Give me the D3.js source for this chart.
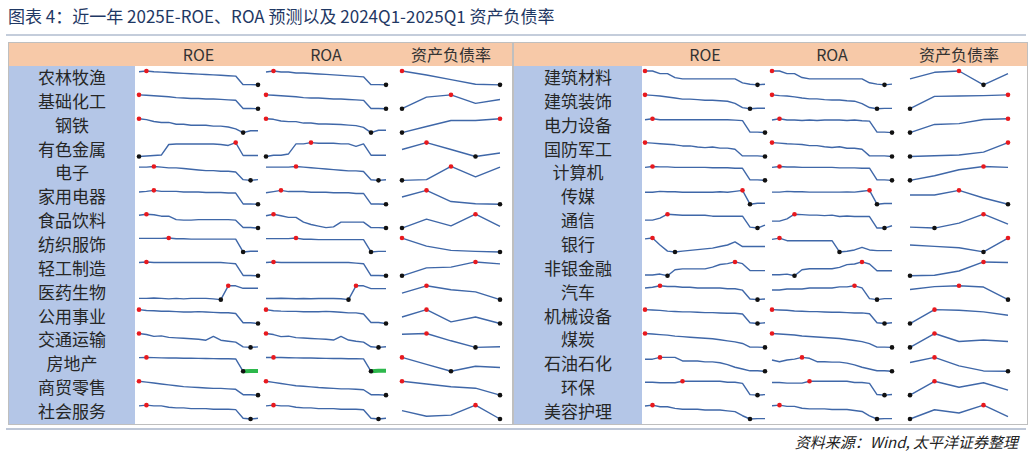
<!DOCTYPE html>
<html><head><meta charset="utf-8">
<script src="https://cdn.jsdelivr.net/npm/d3@7"></script>
<style>body{margin:0;background:#fff;font-family:"Noto Sans CJK SC","Noto Sans",sans-serif}</style>
</head><body><svg id="c" width="1032" height="456"></svg>
<script>
// industries, left table then right table
var industries = ["农林牧渔","基础化工","钢铁","有色金属","电子","家用电器","食品饮料","纺织服饰","轻工制造","医药生物","公用事业","交通运输","房地产","商贸零售","社会服务",
  "建筑材料","建筑装饰","电力设备","国防军工","计算机","传媒","通信","银行","非银金融","汽车","机械设备","煤炭","石油石化","环保","美容护理"];
var columns = ["ROE","ROA","资产负债率"];

// 2025E ROE forecasts over the last year
var roe = [
 [10.3,10.5,10.3,10.2,10.1,10.0,9.9,9.8,9.7,9.6,9.5,9.4,9.3,9.2,7.0,7.0,6.95],
 [9.6,9.5,9.4,9.3,9.2,9.0,8.9,8.8,8.8,8.7,8.7,8.6,8.5,8.4,6.6,6.6,6.55],
 [4.0,3.9,3.7,3.6,3.6,3.4,3.4,3.3,3.3,3.3,3.2,3.2,3.1,2.9,2.5,2.7,2.7],
 [9.0,9.1,9.2,9.3,11.5,11.6,11.6,11.6,11.6,11.6,11.6,11.5,11.3,11.9,9.2,9.2,9.2],
 [7.6,7.6,7.7,7.6,7.5,7.5,7.4,7.3,7.2,7.1,7.1,7.0,7.0,6.9,5.8,5.7,5.8],
 [14.5,14.6,14.8,14.6,14.6,14.6,14.5,14.5,14.5,14.4,14.4,14.4,14.3,14.3,12.3,12.3,12.25],
 [17.5,17.7,17.6,17.3,17.3,16.6,16.5,16.5,16.6,16.6,16.6,16.6,16.6,16.5,15.0,15.0,14.9],
 [7.0,7.0,7.0,7.0,7.05,6.95,6.95,6.9,6.9,6.9,6.9,6.9,6.9,6.9,5.1,5.2,5.2],
 [7.2,7.3,7.2,7.2,7.2,7.2,7.2,7.2,7.2,7.2,7.2,7.2,7.1,7.0,5.1,5.1,5.05],
 [6.5,6.5,6.55,6.5,6.45,6.5,6.45,6.5,6.5,6.5,6.45,6.35,8.0,8.0,7.7,7.7,7.7],
 [8.9,8.8,8.75,8.7,8.7,8.65,8.6,8.6,8.65,8.6,8.55,8.5,8.5,8.4,7.2,7.2,7.1],
 [6.8,6.7,6.5,6.55,6.4,6.35,6.3,6.25,6.2,6.1,6.5,6.1,6.0,5.9,5.4,5.35,5.4],
 [4.0,4.1,4.0,3.9,3.85,3.8,3.75,3.7,3.65,3.6,3.55,3.5,3.5,3.4,-2.1,-2.0,-2.0],
 [6.5,6.4,6.3,6.2,6.1,6.0,5.9,5.85,5.8,5.75,5.7,5.7,5.65,5.6,5.0,5.0,4.95],
 [8.0,8.1,8.0,8.0,7.8,7.7,7.7,7.6,7.6,7.6,7.5,7.5,7.5,7.45,6.2,6.1,6.2],
 [5.5,5.5,5.3,5.3,5.0,4.9,4.9,4.9,4.9,4.9,4.9,4.9,4.9,4.6,4.5,4.45,4.5],
 [6.0,5.95,5.9,5.8,5.7,5.6,5.6,5.55,5.5,5.5,5.45,5.4,5.2,4.8,4.7,4.75,4.75],
 [7.7,7.8,7.7,7.7,7.7,7.7,7.7,7.7,7.7,7.7,7.7,7.7,7.65,7.6,6.4,6.4,6.35],
 [4.8,4.75,4.7,4.65,4.6,4.5,4.5,4.4,4.35,4.4,4.3,4.3,4.2,3.6,3.6,3.6,3.55],
 [5.0,5.1,5.05,5.05,5.0,5.0,5.0,5.0,5.0,4.95,4.95,4.95,4.9,4.9,3.6,3.6,3.55],
 [6.0,6.0,6.1,6.05,6.05,6.0,6.0,6.0,6.0,6.0,6.05,6.0,6.1,6.2,4.8,4.9,4.9],
 [7.4,7.4,7.6,8.0,7.95,7.9,7.9,7.9,7.9,7.8,7.8,7.8,7.8,7.8,6.7,6.6,6.9],
 [11.0,11.05,10.6,10.2,10.15,10.2,10.25,10.3,10.35,10.4,10.5,10.6,10.8,10.5,10.5,10.5,10.5],
 [6.0,6.0,6.1,5.9,6.6,6.7,6.7,6.7,6.7,6.9,7.2,7.3,7.5,7.3,6.5,6.5,6.5],
 [7.6,7.7,7.9,7.8,7.8,7.7,7.7,7.6,7.6,7.6,7.6,7.5,7.5,7.3,6.1,6.0,6.1],
 [7.8,7.75,7.7,7.6,7.55,7.5,7.5,7.45,7.4,7.4,7.35,7.3,7.3,7.2,6.0,5.9,6.0],
 [12.5,12.4,12.3,12.2,12.0,11.9,11.8,11.7,11.6,11.5,11.3,11.1,10.9,10.6,9.9,9.9,9.85],
 [9.5,9.5,9.7,9.7,9.7,9.3,9.3,9.3,9.2,9.2,9.1,8.9,8.6,8.4,8.2,8.2,8.15],
 [6.6,6.6,6.55,6.55,6.55,6.7,6.7,6.7,6.7,6.7,6.7,6.6,6.6,6.5,5.4,5.35,5.4],
 [9.0,9.1,8.9,8.9,8.7,8.6,8.6,8.6,8.5,8.5,8.5,8.4,8.3,7.8,7.4,7.45,7.45]
];

// 2025E ROA forecasts over the last year
var roa = [
 [4.1,4.2,4.1,4.1,4.0,4.0,3.95,3.9,3.85,3.8,3.75,3.7,3.65,3.6,2.8,2.8,2.78],
 [4.8,4.75,4.7,4.65,4.6,4.5,4.45,4.45,4.4,4.35,4.35,4.3,4.25,4.2,3.3,3.3,3.28],
 [1.6,1.58,1.52,1.5,1.5,1.45,1.45,1.42,1.42,1.41,1.4,1.38,1.36,1.3,1.12,1.2,1.2],
 [3.9,4.0,4.0,4.1,4.9,4.9,5.0,4.95,4.95,4.95,4.9,4.9,4.7,4.9,4.0,4.0,4.0],
 [4.3,4.3,4.3,4.3,4.35,4.3,4.25,4.2,4.15,4.1,4.05,4.0,4.0,3.95,3.3,3.25,3.3],
 [6.1,6.2,6.3,6.2,6.2,6.2,6.15,6.15,6.15,6.1,6.1,6.1,6.05,6.05,5.2,5.2,5.18],
 [11.0,11.2,11.0,10.8,10.8,10.2,9.9,9.7,9.5,9.6,10.2,10.2,10.2,10.2,9.5,9.5,9.45],
 [4.2,4.2,4.2,4.2,4.25,4.15,4.15,4.12,4.12,4.12,4.12,4.12,4.12,4.12,3.1,3.15,3.15],
 [3.7,3.75,3.7,3.7,3.7,3.7,3.7,3.7,3.7,3.7,3.7,3.7,3.65,3.6,2.6,2.6,2.58],
 [3.9,3.9,3.92,3.9,3.88,3.9,3.88,3.9,3.9,3.9,3.88,3.82,4.8,4.8,4.6,4.6,4.6],
 [3.2,3.15,3.13,3.12,3.12,3.1,3.1,3.1,3.12,3.1,3.08,3.05,3.05,3.0,2.6,2.6,2.55],
 [3.1,3.05,2.95,2.97,2.9,2.88,2.86,2.84,2.82,2.78,2.96,2.78,2.72,2.68,2.45,2.42,2.45],
 [1.1,1.12,1.1,1.08,1.06,1.05,1.04,1.02,1.0,0.99,0.98,0.96,0.96,0.94,-0.6,-0.55,-0.55],
 [2.6,2.55,2.5,2.45,2.4,2.38,2.35,2.32,2.3,2.28,2.26,2.26,2.24,2.22,2.0,2.0,1.98],
 [4.0,4.05,4.0,4.0,3.9,3.85,3.85,3.8,3.8,3.8,3.75,3.75,3.75,3.72,3.1,3.05,3.1],
 [2.9,2.9,2.8,2.8,2.65,2.6,2.6,2.6,2.6,2.6,2.6,2.6,2.6,2.45,2.4,2.37,2.4],
 [1.6,1.58,1.57,1.55,1.52,1.5,1.5,1.48,1.47,1.47,1.45,1.44,1.38,1.28,1.25,1.26,1.26],
 [3.0,3.05,3.0,3.0,2.98,3.0,2.98,3.0,3.0,3.0,2.98,3.0,2.97,2.95,2.5,2.5,2.48],
 [2.9,2.87,2.84,2.82,2.8,2.74,2.74,2.68,2.64,2.68,2.6,2.6,2.55,2.2,2.2,2.2,2.17],
 [3.0,3.06,3.03,3.03,3.0,3.0,3.0,3.0,3.0,2.97,2.97,2.97,2.95,2.95,2.2,2.2,2.17],
 [3.9,3.9,3.95,3.93,3.93,3.9,3.9,3.9,3.9,3.9,3.92,3.9,3.96,4.02,3.1,3.15,3.15],
 [3.1,3.1,3.2,3.4,3.38,3.36,3.36,3.34,3.36,3.3,3.32,3.3,3.3,3.3,2.8,2.8,2.9],
 [0.85,0.86,0.84,0.84,0.84,0.84,0.84,0.84,0.84,0.755,0.76,0.77,0.79,0.77,0.765,0.765,0.765],
 [1.5,1.5,1.52,1.47,1.65,1.68,1.68,1.68,1.68,1.72,1.8,1.82,1.88,1.82,1.62,1.62,1.62],
 [3.0,3.0,3.05,3.05,3.05,3.1,3.1,3.1,3.1,3.15,3.15,3.2,3.1,2.6,2.55,2.6,2.6],
 [3.6,3.58,3.56,3.52,3.5,3.48,3.48,3.46,3.44,3.44,3.42,3.4,3.4,3.35,2.8,2.75,2.8],
 [6.6,6.55,6.5,6.45,6.35,6.3,6.25,6.2,6.15,6.1,6.0,5.9,5.8,5.6,5.25,5.25,5.22],
 [4.7,4.6,4.7,4.75,4.85,4.8,4.6,4.6,4.58,4.58,4.52,4.42,4.28,4.18,4.08,4.08,4.05],
 [2.2,2.2,2.18,2.18,2.18,2.24,2.24,2.24,2.24,2.24,2.24,2.2,2.2,2.17,1.8,1.78,1.8],
 [6.0,6.05,5.95,5.95,5.8,5.75,5.75,5.75,5.7,5.7,5.7,5.62,5.55,5.2,4.95,4.98,4.98]
];

// debt-to-asset ratio, 2024Q1..2025Q1
var debt = [
 [58.5,57.8,57.0,56.2,56.1],
 [48.5,50.0,50.3,49.2,49.7],
 [60.0,60.7,61.4,61.4,61.6],
 [54.0,55.0,54.0,53.0,53.5],
 [44.9,45.0,46.9,45.4,46.8],
 [61.0,62.5,60.0,59.5,59.4],
 [33.0,34.6,33.4,35.5,33.3],
 [41.5,40.0,39.2,39.0,38.9],
 [45.0,47.0,47.2,48.5,48.0],
 [40.5,42.2,41.3,40.8,39.0],
 [62.8,63.7,62.2,62.8,62.0],
 [54.0,54.1,53.0,52.0,52.1],
 [73.8,72.7,71.6,72.4,72.2],
 [58.0,57.6,57.2,57.0,56.0],
 [45.0,44.0,44.2,46.0,43.5],
 [48.5,49.5,49.7,47.6,49.3],
 [74.0,75.6,75.65,75.7,75.8],
 [63.0,64.0,64.1,64.6,64.7],
 [39.9,40.0,40.1,40.5,41.8],
 [39.0,40.0,41.3,42.0,41.8],
 [37.0,37.0,37.6,36.6,35.8],
 [45.2,45.0,46.0,47.8,45.8],
 [92.0,91.9,91.8,91.5,92.5],
 [76.9,77.0,77.8,79.5,79.4],
 [62.0,62.7,62.9,62.6,59.5],
 [52.5,55.0,54.9,54.6,54.0],
 [47.9,50.5,49.0,49.3,49.0],
 [49.0,50.5,48.0,46.5,46.4],
 [55.0,57.8,56.6,57.5,56.0],
 [32.0,34.0,33.3,35.0,32.5]
];

var svg = d3.select("#c");
var lineCol = "#3F67A8";

svg.append("text").attr("x", 8).attr("y", 23)
  .attr("font-size", 17).attr("fill", "#1F3864")
  .text("图表 4：近一年 2025E-ROE、ROA 预测以及 2024Q1-2025Q1 资产负债率");
svg.append("line").attr("x1", 6).attr("x2", 1026).attr("y1", 35).attr("y2", 35)
  .attr("stroke", "#8A9BB8").attr("stroke-width", 1.2);

var tables = [
  {x0: 9, x1: 512, labW: 126, cols: [[139, 258], [266, 386], [402, 500]]},
  {x0: 514, x1: 1027, labW: 128, cols: [[645, 765], [772, 892], [910, 1008]]}
];
var headTop = 43, headBot = 66, rowsBot = 424, nRows = 15;
var rowY = d3.scaleBand().domain(d3.range(nRows)).range([headBot, rowsBot]);

function spark(g, vals, xr, y0, y1) {
  var x = d3.scaleLinear().domain([0, vals.length - 1]).range(xr);
  var y = d3.scaleLinear().domain(d3.extent(vals)).range([y1, y0]);
  var line = d3.line().x(function (d, i) { return x(i); }).y(function (d) { return y(d); });
  g.append("path").attr("d", line(vals)).attr("fill", "none")
    .attr("stroke", lineCol).attr("stroke-width", 1.4).attr("stroke-linejoin", "round");
  // negative stretch highlighted in green
  var neg = vals.map(function (d, i) { return [i, d]; }).filter(function (p) { return p[1] < 0; });
  if (neg.length > 1) {
    g.append("path").attr("d", d3.line().x(function (p) { return x(p[0]); }).y(function (p) { return y(p[1]); })(neg))
      .attr("fill", "none").attr("stroke", "#2DB84C").attr("stroke-width", 4);
  }
  var mx = vals.indexOf(d3.max(vals));
  var mn = vals.lastIndexOf(d3.min(vals));
  g.append("circle").attr("cx", x(mn)).attr("cy", y(vals[mn])).attr("r", 2.3).attr("fill", "#111");
  g.append("circle").attr("cx", x(mx)).attr("cy", y(vals[mx])).attr("r", 2.3).attr("fill", "#E8191E");
}

tables.forEach(function (t, ti) {
  var g = svg.append("g");
  g.append("rect").attr("x", t.x0).attr("y", headTop).attr("width", t.x1 - t.x0).attr("height", headBot - headTop).attr("fill", "#F7C9A8");
  g.append("rect").attr("x", t.x0).attr("y", headBot).attr("width", t.labW).attr("height", rowsBot - headBot).attr("fill", "#B4C6E7");
  g.append("rect").attr("x", t.x0 - 0.5).attr("y", headTop - 0.5).attr("width", t.x1 - t.x0 + 1).attr("height", rowsBot - headTop + 1)
    .attr("fill", "none").attr("stroke", "#BFBFBF");
  t.cols.forEach(function (c, ci) {
    g.append("text").attr("x", (c[0] + c[1]) / 2).attr("y", headBot - 5).attr("text-anchor", "middle")
      .attr("font-size", 16).attr("fill", "#333").text(columns[ci]);
  });
  d3.range(nRows).forEach(function (r) {
    var k = ti * nRows + r;
    var top = rowY(r), h = rowY.bandwidth();
    g.append("text").attr("x", t.x0 + t.labW / 2).attr("y", top + h / 2 + 6).attr("text-anchor", "middle")
      .attr("font-size", 17).attr("fill", "#262626").text(industries[k]);
    spark(g, roe[k], t.cols[0], top + 5, top + h - 5);
    spark(g, roa[k], t.cols[1], top + 5, top + h - 5);
    spark(g, debt[k], t.cols[2], top + 5, top + h - 5);
  });
});

svg.append("line").attr("x1", 6).attr("x2", 1026).attr("y1", 429).attr("y2", 429)
  .attr("stroke", "#7F8FB0").attr("stroke-width", 1.2);
svg.append("text").attr("x", 1018).attr("y", 448).attr("text-anchor", "end")
  .attr("font-size", 15).attr("font-style", "italic").attr("fill", "#222")
  .text("资料来源：Wind, 太平洋证券整理");
</script></body></html>
